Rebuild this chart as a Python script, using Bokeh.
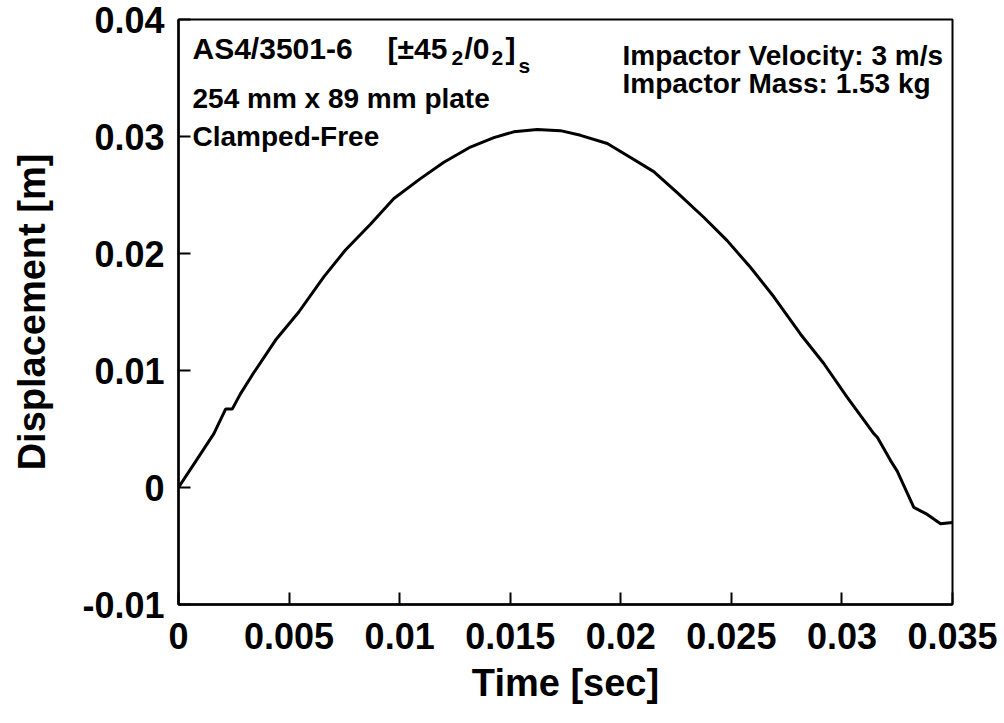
from bokeh.plotting import figure
from bokeh.models import Range1d, FixedTicker, Label
from bokeh.embed import file_html
from bokeh.resources import INLINE

# ---- data ----
time_s = [0.0, 0.0008, 0.0016, 0.00213, 0.00243, 0.0028, 0.00333, 0.00439, 0.00544,
          0.00657, 0.00755, 0.00868, 0.00974, 0.01094, 0.0120, 0.0132, 0.01426,
          0.01516, 0.01622, 0.01727, 0.01818, 0.01939, 0.02044, 0.02149, 0.02255,
          0.02375, 0.02481, 0.02587, 0.02692, 0.02813, 0.02918, 0.03024, 0.03144,
          0.0316, 0.0322, 0.0325, 0.03325, 0.03386, 0.03446, 0.0350]
displacement_m = [0.0, 0.0023, 0.0046, 0.0067, 0.0067, 0.0080, 0.0096, 0.0126, 0.0150,
                  0.0180, 0.0203, 0.0225, 0.0247, 0.0264, 0.0278, 0.0291, 0.0299,
                  0.0304, 0.0306, 0.0305, 0.0301, 0.0294, 0.0282, 0.0270, 0.0252,
                  0.0231, 0.0211, 0.0188, 0.0163, 0.0131, 0.0106, 0.0077, 0.0046,
                  0.0043, 0.0023, 0.0014, -0.0017, -0.0023, -0.0031, -0.0030]
x_ticks = [0, 0.005, 0.01, 0.015, 0.02, 0.025, 0.03, 0.035]
x_tick_labels = ["0", "0.005", "0.01", "0.015", "0.02", "0.025", "0.03", "0.035"]
y_ticks = [-0.01, 0, 0.01, 0.02, 0.03, 0.04]
y_tick_labels = ["-0.01", "0", "0.01", "0.02", "0.03", "0.04"]

FONT = "Liberation Sans"
W, H = 1000, 720
FL, FR, FT, FB = 178, 952, 19, 604  # frame edges in page px

p = figure(width=W, height=H, output_backend="svg", toolbar_location=None,
           x_range=Range1d(0, 0.035), y_range=Range1d(-0.01, 0.04),
           min_border_left=FL, min_border_right=W - FR,
           min_border_top=FT, min_border_bottom=H - FB)
p.grid.visible = False
p.background_fill_color = "white"
p.border_fill_color = "white"
p.outline_line_color = "black"
p.outline_line_width = 2

p.line(time_s, displacement_m, line_color="black", line_width=3)

for ax in (p.xaxis[0], p.yaxis[0]):
    ax.axis_line_width = 2.5
    ax.axis_line_color = "black"
    ax.major_tick_in = 12
    ax.major_tick_out = 0
    ax.major_tick_line_width = 2
    ax.minor_tick_line_color = None
    ax.major_label_text_font = FONT
    ax.major_label_text_font_style = "bold"
    ax.major_label_text_font_size = "36px"
    ax.major_label_text_color = "black"
    ax.axis_label_text_font = FONT
    ax.axis_label_text_font_style = "bold"
    ax.axis_label_text_font_size = "38px"
    ax.axis_label_text_color = "black"

p.xaxis.ticker = FixedTicker(ticks=x_ticks)
p.yaxis.ticker = FixedTicker(ticks=y_ticks)
p.xaxis.major_label_overrides = {t: l for t, l in zip(x_ticks, x_tick_labels)}
p.yaxis.major_label_overrides = {t: l for t, l in zip(y_ticks, y_tick_labels)}
p.xaxis.axis_label = "Time [sec]"
p.yaxis.axis_label = "Displacement [m]"
p.xaxis.major_label_standoff = 18
p.xaxis.axis_label_standoff = 10
p.yaxis.major_label_standoff = 14
p.yaxis.axis_label_standoff = 26


# annotation placement helpers (page px in the reference -> data coords)
def dx(px):
    return (px - FL) / (FR - FL) * 0.035


def dy(py):
    return 0.04 - (py - FT) / (FB - FT) * 0.05


def add(txt, px, py, size=28):
    p.add_layout(Label(x=dx(px), y=dy(py), text=txt, text_font=FONT,
                       text_font_style="bold",
                       text_font_size=f"{size}px", text_color="black",
                       text_baseline="alphabetic", text_align="left"))


add("AS4/3501-6", 192, 48, 30)
add("[±45", 387, 48, 30)
add("2", 451, 57, 21)
add("/0", 464, 48, 30)
add("2", 491, 57, 21)
add("]", 505, 48, 30)
add("s", 518, 65, 21)
add("254 mm x 89 mm  plate", 192, 98)
add("Clamped-Free", 192, 136)
add("Impactor Velocity: 3 m/s", 622, 55)
add("Impactor Mass: 1.53 kg", 622, 83)

open("out.html", "w").write(file_html(p, INLINE))
